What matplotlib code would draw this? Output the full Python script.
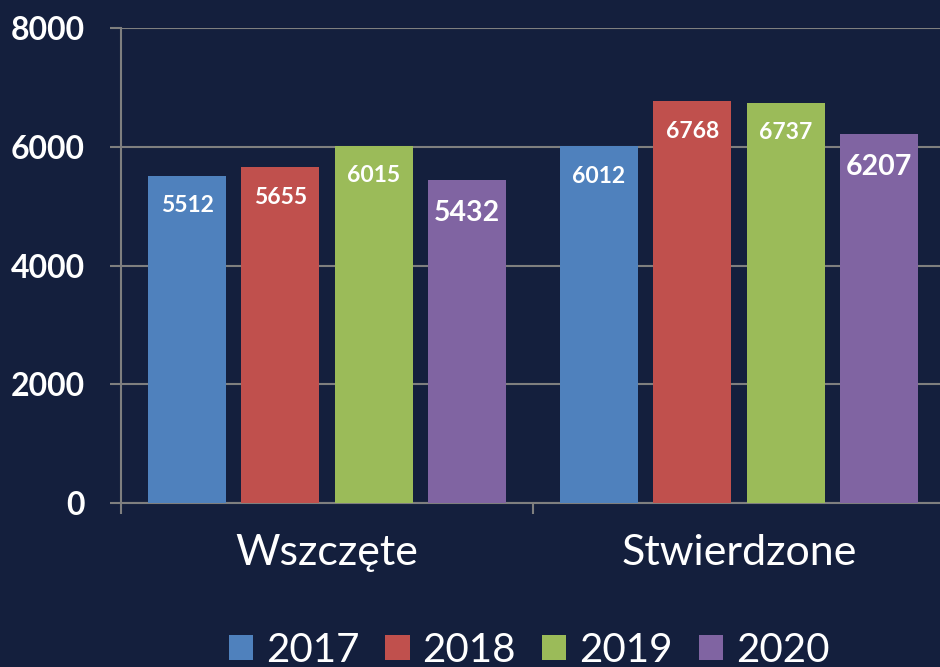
import numpy as np
import matplotlib
matplotlib.use("Agg")
import matplotlib.pyplot as plt
from matplotlib.patches import Patch

# chart data
categories = ["Wszczęte", "Stwierdzone"]
years = ["2017", "2018", "2019", "2020"]
values = {
    "2017": [5512, 6012],
    "2018": [5655, 6768],
    "2019": [6015, 6737],
    "2020": [5432, 6207],
}
y_ticks = [0, 2000, 4000, 6000, 8000]

colors = ["#4f81bd", "#c0504d", "#9bbb59", "#8064a2"]
bg = "#141f3d"
grid_col = "#7f7f7f"

plt.rcParams["font.family"] = ["Lato", "DejaVu Sans"]

fig = plt.figure(figsize=(9.4, 6.67), dpi=100, facecolor=bg)
ax = fig.add_axes([121 / 940, 1 - 503 / 667, 824 / 940, 475 / 667])
ax.set_facecolor(bg)

x = np.arange(len(categories))
pitch = 0.2265
width = 0.189
offsets = (np.arange(len(years)) - 1.5) * pitch

for i, yr in enumerate(years):
    bars = ax.bar(x + offsets[i], values[yr], width, color=colors[i], zorder=3)
    big = yr == "2020"
    for b, v in zip(bars, values[yr]):
        ax.annotate(str(v), (b.get_x() + b.get_width() / 2, v),
                    xytext=(0, -33 if big else -30), textcoords="offset pixels",
                    ha="center", va="center", color="white", fontweight="bold",
                    fontsize=20.5 if big else 16.5, zorder=4)

ax.set_xlim(-0.5, len(categories) - 0.5)
ax.set_ylim(0, 8000)
ax.set_yticks(y_ticks)
ax.set_yticklabels([str(t) for t in y_ticks], color="white", fontweight="bold", fontsize=23)
ax.yaxis.grid(True, color=grid_col, linewidth=1.5, zorder=0)

ax.set_xticks(x)
ax.set_xticklabels(categories, color="white", fontsize=31)
ax.tick_params(axis="x", length=0, pad=22)
ax.set_xticks(np.arange(len(categories) + 1) - 0.5, minor=True)
ax.tick_params(axis="x", which="minor", length=8, color=grid_col, width=1.5)
ax.tick_params(axis="y", length=8, color=grid_col, width=1.5, pad=18)

for s in ["top", "right"]:
    ax.spines[s].set_visible(False)
for s in ["left", "bottom"]:
    ax.spines[s].set_color(grid_col)
    ax.spines[s].set_linewidth(1.5)

handles = [Patch(facecolor=c) for c in colors]
leg = fig.legend(handles, years, loc="center", bbox_to_anchor=(529 / 940, 1 - 650 / 667),
                 ncol=4, frameon=False, fontsize=29, handlelength=0.6, handleheight=0.6,
                 handletextpad=0.32, columnspacing=0.65, borderaxespad=0)
for t in leg.get_texts():
    t.set_color("white")

fig.savefig("out.png", dpi=100, facecolor=bg)
